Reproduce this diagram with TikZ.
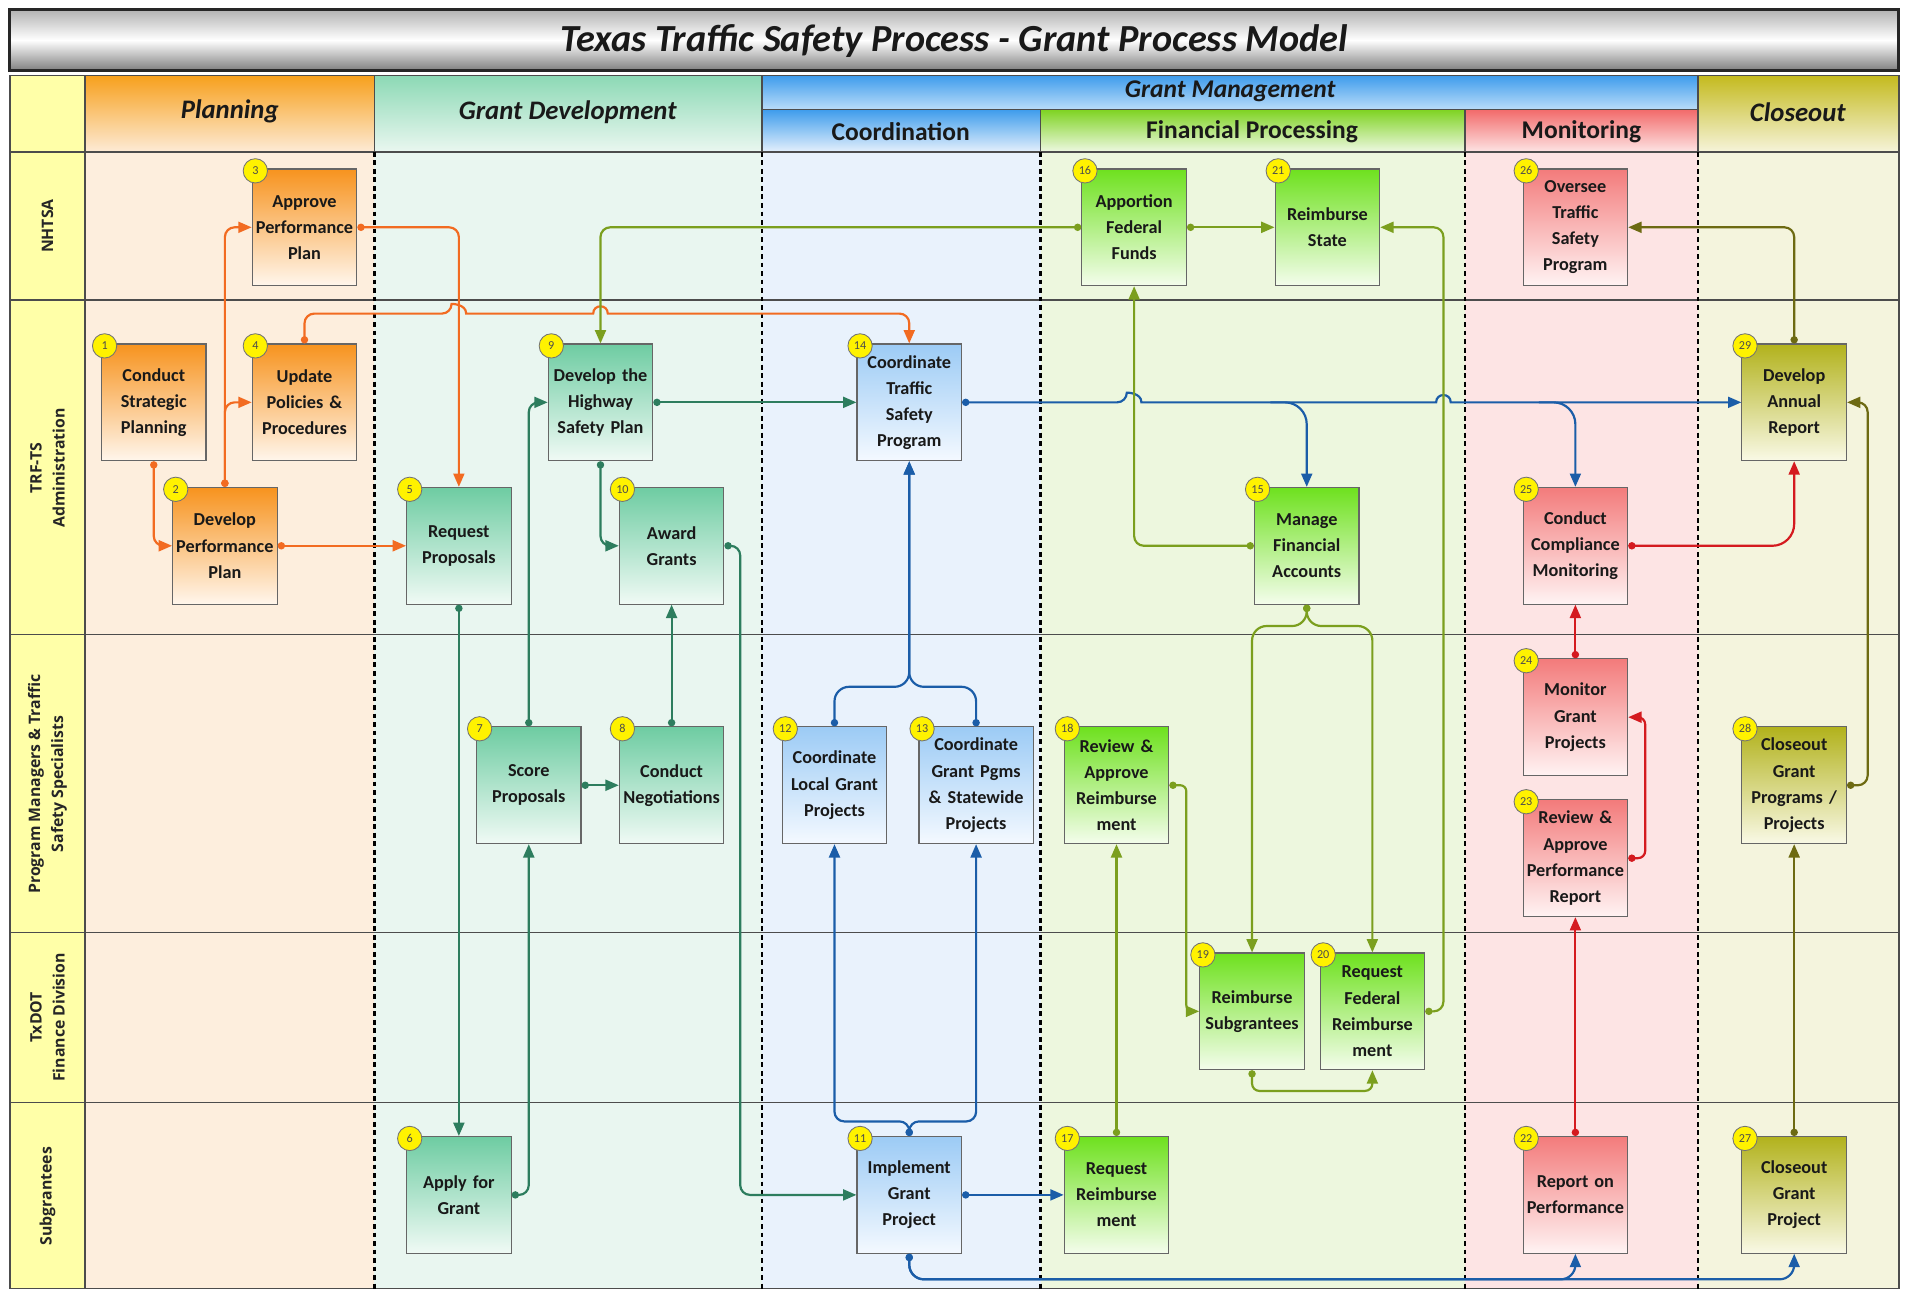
\documentclass[tikz,border=0pt]{standalone}
\usepackage{fontspec}
\setmainfont{Carlito}
\newfontfamily\lanefont{Open Sans}
\usetikzlibrary{arrows.meta,calc}
% box colours
\definecolor{orTop}{HTML}{F7931E}\definecolor{orBot}{HTML}{FFF6EC}
\definecolor{gdTop}{HTML}{6ECCA2}\definecolor{gdBot}{HTML}{F0FAF5}
\definecolor{coTop}{HTML}{9CCBF5}\definecolor{coBot}{HTML}{F4F9FF}
\definecolor{fiTop}{HTML}{6EE11E}\definecolor{fiBot}{HTML}{F4FDEC}
\definecolor{moTop}{HTML}{F37B7B}\definecolor{moBot}{HTML}{FFF3F3}
\definecolor{clTop}{HTML}{B2B21C}\definecolor{clBot}{HTML}{F9F9E6}
\definecolor{badgeY}{HTML}{FFF200}
% backgrounds
\definecolor{bgLab}{HTML}{FFFFA8}
\definecolor{bgPlan}{HTML}{FDEEDD}
\definecolor{bgGD}{HTML}{E9F6F0}
\definecolor{bgCo}{HTML}{E9F2FC}
\definecolor{bgFi}{HTML}{EDF7DE}
\definecolor{bgMo}{HTML}{FDE4E4}
\definecolor{bgCl}{HTML}{F4F4DD}
% header colours
\definecolor{hPlT}{HTML}{F7A01C}\definecolor{hPlB}{HTML}{FDEBD6}
\definecolor{hGDT}{HTML}{8CD9B5}\definecolor{hGDB}{HTML}{EAF7F0}
\definecolor{hGMT}{HTML}{3E9CEC}\definecolor{hGMB}{HTML}{B9DCF9}
\definecolor{hCoB}{HTML}{E4F0FC}
\definecolor{hFiT}{HTML}{7ED321}\definecolor{hFiB}{HTML}{EEF8E2}
\definecolor{hMoT}{HTML}{F26A6A}\definecolor{hMoB}{HTML}{FDE4E4}
\definecolor{hClT}{HTML}{C4BA1E}\definecolor{hClB}{HTML}{F6F4DA}
% connector colours
\definecolor{orL}{HTML}{F26B21}
\definecolor{gdL}{HTML}{2D7D5E}
\definecolor{blL}{HTML}{1B5DA8}
\definecolor{grL}{HTML}{7B9F1E}
\definecolor{rdL}{HTML}{D41A1F}
\definecolor{clL}{HTML}{6D6A12}
\begin{document}
\begin{tikzpicture}[x=1pt,y=-1pt,
  box/.style={draw=black!60, line width=0.9pt, minimum width=86pt, minimum height=96pt,
    text width=84pt, align=center, inner sep=0pt,
    font=\fontsize{15}{21.5}\selectfont\bfseries, text=black!90},
  orbox/.style={box, top color=orTop, bottom color=orBot},
  gdbox/.style={box, top color=gdTop, bottom color=gdBot},
  cobox/.style={box, top color=coTop, bottom color=coBot},
  fibox/.style={box, top color=fiTop, bottom color=fiBot},
  mobox/.style={box, top color=moTop, bottom color=moBot},
  clbox/.style={box, top color=clTop, bottom color=clBot},
  badge/.style={circle, draw=black!55, line width=0.7pt, fill=badgeY, minimum size=20pt,
    inner sep=0pt, font=\fontsize{10}{10}\selectfont, text=black!70},
  conn/.style={line width=1.8pt, rounded corners=8pt,
    {Circle[length=6pt,width=6pt]}-{Triangle[length=11pt,width=9pt]}},
  nconn/.style={line width=1.8pt, rounded corners=8pt, -{Triangle[length=11pt,width=9pt]}},
  lane/.style={rotate=90, font=\lanefont\fontsize{13}{19}\selectfont\bfseries, align=center, text=black!85},
  hdr/.style={font=\fontsize{22}{24}\selectfont\bfseries\itshape, text=black!90},
  subhdr/.style={font=\fontsize{21}{24}\selectfont\bfseries, text=black!90},
  gridline/.style={draw=black!70, line width=1.3pt},
  lanesep/.style={draw=black, line width=2pt, dash pattern=on 4pt off 3pt}
]
\useasboundingbox (0,0) rectangle (1568,1064);
\fill[white] (0,0) rectangle (1568,1064);

% ---------- title ----------
\shade[top color=black!30, bottom color=black!50, middle color=white] (8,8) rectangle (1562,58);
\draw[black!85, line width=2.5pt] (8,8) rectangle (1562,58);
\node[font=\fontsize{31.5}{33}\selectfont\bfseries\itshape, text=black!90] (title) at (785,34)
  {Texas Traffic Safety Process - Grant Process Model};

% ---------- backgrounds ----------
\fill[bgLab] (8,62) rectangle (70,1060);
\fill[bgPlan] (70,125) rectangle (308,1060);
\fill[bgGD] (308,125) rectangle (627,1060);
\fill[bgCo] (627,125) rectangle (856,1060);
\fill[bgFi] (856,125) rectangle (1205,1060);
\fill[bgMo] (1205,125) rectangle (1397,1060);
\fill[bgCl] (1397,125) rectangle (1562,1060);

% ---------- header ----------
\shade[top color=hPlT, bottom color=hPlB] (70,62) rectangle (308,125);
\shade[top color=hGDT, bottom color=hGDB] (308,62) rectangle (627,125);
\shade[top color=hGMT, bottom color=hGMB] (627,62) rectangle (1397,90);
\shade[top color=hGMT, bottom color=hCoB] (627,90) rectangle (856,125);
\shade[top color=hFiT, bottom color=hFiB] (856,90) rectangle (1205,125);
\shade[top color=hMoT, bottom color=hMoB] (1205,90) rectangle (1397,125);
\shade[top color=hClT, bottom color=hClB] (1397,62) rectangle (1562,125);

\node[hdr] (hPlan) at (189,92) {Planning};
\node[hdr] (hGD) at (467,92) {Grant Development};
\node[hdr, font=\fontsize{21}{23}\selectfont\bfseries\itshape] (hGM) at (1012,75) {Grant Management};
\node[subhdr] (hCo) at (741,108) {Coordination};
\node[subhdr] (hFi) at (1030,108) {Financial Processing};
\node[subhdr] (hMo) at (1301,108) {Monitoring};
\node[hdr] (hCl) at (1479,92) {Closeout};

% ---------- grid ----------
\draw[gridline] (8,62) rectangle (1562,1060);
\foreach \yy in {125,247,522,767,907} \draw[gridline] (8,\yy) -- (1562,\yy);
\draw[gridline] (70,62) -- (70,1060);
\draw[gridline] (308,62) -- (308,125);
\draw[gridline] (627,62) -- (627,125);
\draw[gridline] (1397,62) -- (1397,125);
\draw[gridline] (856,90) -- (856,125);
\draw[gridline] (1205,90) -- (1205,125);
\draw[gridline] (627,90) -- (1397,90);
\foreach \xx in {308,627,856,1205,1397} \draw[lanesep] (\xx,125) -- (\xx,1060);

% ---------- lane labels ----------
\node[lane] (lNH) at (39,186) {NHTSA};
\node[lane] (lTR) at (39,385) {TRF-TS\\Administration};
\node[lane] (lPM) at (39,645) {Program Managers \& Traffic\\Safety Specialists};
\node[lane] (lTX) at (39,837) {TxDOT\\Finance Division};
\node[lane] (lSG) at (39,984) {Subgrantees};

% ---------- boxes ----------
\node[orbox] (n1) at (126.5,331) {Conduct\\Strategic\\Planning};
\node[orbox] (n2) at (185,449) {Develop\\Performance\\Plan};
\node[orbox] (n3) at (250.5,187) {Approve\\Performance\\Plan};
\node[orbox] (n4) at (250.5,331) {Update\\Policies \&\\Procedures};
\node[gdbox] (n5) at (377.5,449) {Request\\Proposals};
\node[gdbox] (n6) at (377.5,983) {Apply for\\Grant};
\node[gdbox] (n7) at (435,646) {Score\\Proposals};
\node[gdbox] (n8) at (552.5,646) {Conduct\\Negotiations};
\node[gdbox] (n9) at (494,331) {Develop the\\Highway\\Safety Plan};
\node[gdbox] (n10) at (552.5,449) {Award\\Grants};
\node[cobox] (n11) at (748,983) {Implement\\Grant\\Project};
\node[cobox] (n12) at (686.5,646) {Coordinate\\Local Grant\\Projects};
\node[cobox, minimum width=94pt, text width=92pt] (n13) at (803,646) {Coordinate\\Grant Pgms\\\& Statewide\\Projects};
\node[cobox] (n14) at (748,331) {Coordinate\\Traffic\\Safety\\Program};
\node[fibox] (n15) at (1075,449) {Manage\\Financial\\Accounts};
\node[fibox] (n16) at (933,187) {Apportion\\Federal\\Funds};
\node[fibox] (n17) at (918.5,983) {Request\\Reimburse\\ment};
\node[fibox] (n18) at (918.5,646) {Review \&\\Approve\\Reimburse\\ment};
\node[fibox] (n19) at (1030,832) {Reimburse\\Subgrantees};
\node[fibox] (n20) at (1129,832) {Request\\Federal\\Reimburse\\ment};
\node[fibox] (n21) at (1092,187) {Reimburse\\State};
\node[mobox] (n22) at (1296,983) {Report on\\Performance};
\node[mobox] (n23) at (1296,706) {Review \&\\Approve\\Performance\\Report};
\node[mobox] (n24) at (1296,590) {Monitor\\Grant\\Projects};
\node[mobox] (n25) at (1296,449) {Conduct\\Compliance\\Monitoring};
\node[mobox] (n26) at (1296,187) {Oversee\\Traffic\\Safety\\Program};
\node[clbox] (n27) at (1476,983) {Closeout\\Grant\\Project};
\node[clbox] (n28) at (1476,646) {Closeout\\Grant\\Programs /\\Projects};
\node[clbox] (n29) at (1476,331) {Develop\\Annual\\Report};

% ---------- helper levels ----------
\coordinate (y258) at (0,258);
\coordinate (y565) at (0,565);
\coordinate (y515) at (0,515);

% ---------- orange connectors ----------
\draw[conn,orL] (n1.south) |- (n2.west);
\draw[conn,orL] (n2.north) |- (n3.west);
\draw[conn,orL] (n2.north) |- (n4.west);
\draw[conn,orL] (n2.east) -- (n5.west);
\draw[conn,orL] (n3.east) -| (n5.north);
\draw[conn,orL] (n4.north) |- ($(n5.north |- y258)+(-6,0)$) [sharp corners]
  .. controls +(0,-8) and +(0,-8) .. ++(12,0)
  -- ($(n9.north |- y258)+(-6,0)$)
  .. controls +(0,-8) and +(0,-8) .. ++(12,0)
  -- ++(20,0) [rounded corners=8pt] -| (n14.north);

% ---------- grant development connectors ----------
\draw[conn,gdL] (n5.south) -- (n6.north);
\draw[conn,gdL] (n6.east) -| (n7.south);
\draw[conn,gdL] (n7.north) |- (n9.west);
\draw[conn,gdL] (n7.east) -- (n8.west);
\draw[conn,gdL] (n8.north) -- (n10.south);
\draw[conn,gdL] (n9.south) |- (n10.west);
\draw[conn,gdL] (n9.east) -- (n14.west);
\draw[conn,gdL] (n10.east) -- ++(13,0) |- (n11.west);

% ---------- coordination connectors ----------
\draw[conn,blL] (n14.east) -- ($(n16.south |- n14.east)+(-6,0)$) [sharp corners]
  .. controls +(0,-8) and +(0,-8) .. ++(12,0)
  -- ($(n20.east |- n14.east)+(9,0)$)
  .. controls +(0,-8) and +(0,-8) .. ++(12,0)
  -- (n29.west);
\coordinate (br15) at ($(n15.north |- n14.east)+(-30,0)$);
\draw[nconn,blL,rounded corners=18pt] (br15) -| (n15.north);
\coordinate (br25) at ($(n25.north |- n14.east)+(-30,0)$);
\draw[nconn,blL,rounded corners=18pt] (br25) -| (n25.north);
\draw[conn,blL] (n11.north) -- ++(0,-12) -| (n12.south);
\draw[conn,blL] (n11.north) -- ++(0,-12) -| (n13.south);
\draw[conn,blL,rounded corners=12pt] (n12.north) |- (n14.south |- y565) -- (n14.south);
\draw[conn,blL,rounded corners=12pt] (n13.north) |- (n14.south |- y565) -- (n14.south);
\draw[conn,blL] (n11.east) -- (n17.west);
\draw[conn,blL,rounded corners=12pt] (n11.south) -- ++(0,21) -| (n22.south);
\draw[conn,blL,rounded corners=12pt] (n11.south) -- ++(0,21) -| (n27.south);

% ---------- financial connectors ----------
\draw[conn,grL] (n16.west) -| (n9.north);
\draw[conn,grL] (n16.east) -- (n21.west);
\draw[conn,grL] (n15.west) -| (n16.south);
\draw[conn,grL,rounded corners=12pt] (n15.south) |- (n19.north |- y515) -- (n19.north);
\draw[conn,grL,rounded corners=12pt] (n15.south) |- (n20.north |- y515) -- (n20.north);
\draw[conn,grL,rounded corners=5pt] (n18.east) -- ++(14,0) |- (n19.west);
\draw[conn,grL] (n17.north) -- (n18.south);
\draw[conn,grL,rounded corners=6pt] (n19.south) -- ++(0,17) -| (n20.south);
\draw[conn,grL] (n20.east) -- ++(15,0) |- (n21.east);

% ---------- monitoring connectors ----------
\draw[conn,rdL] (n22.north) -- (n23.south);
\draw[conn,rdL,rounded corners=6pt] (n23.east) -- ++(14,0) |- (n24.east);
\draw[conn,rdL] (n24.north) -- (n25.south);
\draw[conn,rdL,rounded corners=18pt] (n25.east) -| (n29.south);

% ---------- closeout connectors ----------
\draw[conn,clL] (n27.north) -- (n28.south);
\draw[conn,clL] (n28.east) -- ++(17,0) |- (n29.east);
\draw[conn,clL] (n29.north) |- (n26.east);

% ---------- badges ----------
\foreach \i in {1,...,29} {
  \node[badge] (b\i) at ($(n\i.north west)+(3,2)$) {\i};
}
\end{tikzpicture}
\end{document}
